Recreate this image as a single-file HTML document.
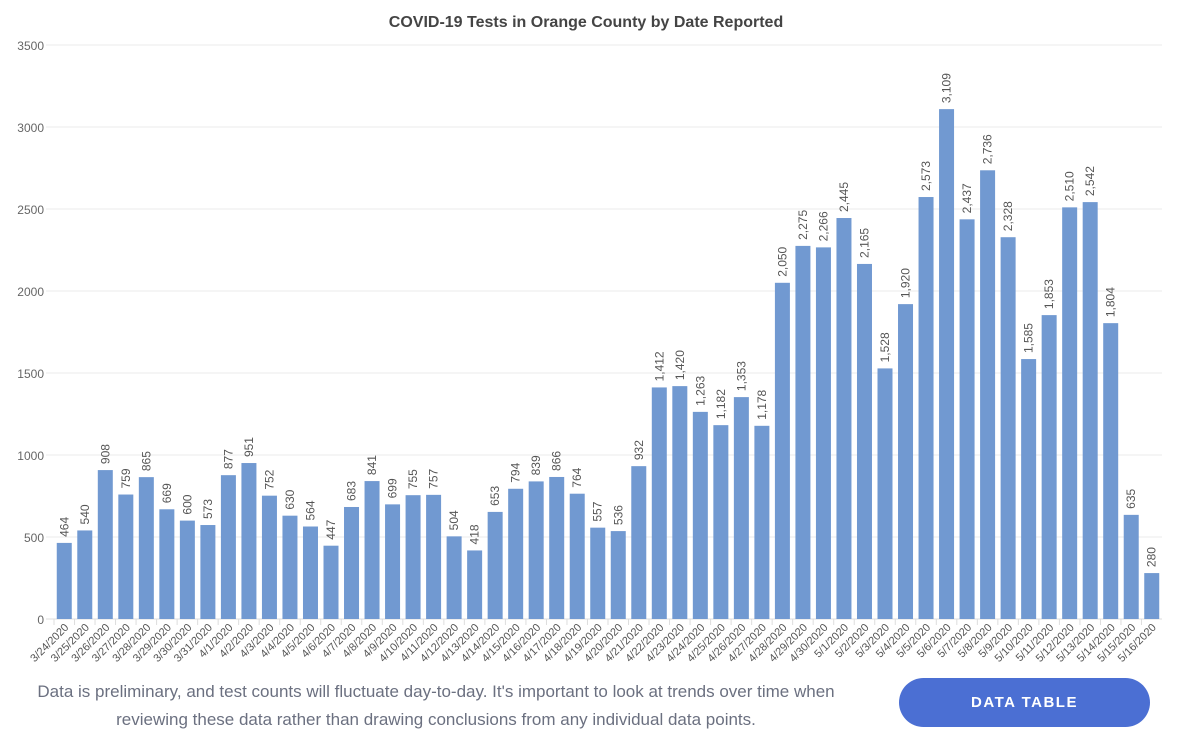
<!DOCTYPE html>
<html><head><meta charset="utf-8"><style>
body{margin:0;background:#fff;width:1200px;height:754px;overflow:hidden;font-family:"Liberation Sans",sans-serif}
#note{position:absolute;left:10px;top:678px;width:852px;text-align:center;color:#6b7080;font-size:17px;line-height:28px}
#btn{position:absolute;left:899px;top:678px;width:251px;height:49px;border-radius:25px;background:#4b6fd3;color:#fff;font-size:15px;font-weight:bold;letter-spacing:1.5px;text-align:center;line-height:49px}
</style></head><body>
<svg id="chart" width="1200" height="754" style="position:absolute;left:0;top:0"></svg>
<div id="note">Data is preliminary, and test counts will fluctuate day-to-day. It's important to look at trends over time when<br>reviewing these data rather than drawing conclusions from any individual data points.</div>
<div id="btn">DATA TABLE</div>
<script>
const dates=["3/24/2020","3/25/2020","3/26/2020","3/27/2020","3/28/2020","3/29/2020","3/30/2020","3/31/2020","4/1/2020","4/2/2020","4/3/2020","4/4/2020","4/5/2020","4/6/2020","4/7/2020","4/8/2020","4/9/2020","4/10/2020","4/11/2020","4/12/2020","4/13/2020","4/14/2020","4/15/2020","4/16/2020","4/17/2020","4/18/2020","4/19/2020","4/20/2020","4/21/2020","4/22/2020","4/23/2020","4/24/2020","4/25/2020","4/26/2020","4/27/2020","4/28/2020","4/29/2020","4/30/2020","5/1/2020","5/2/2020","5/3/2020","5/4/2020","5/5/2020","5/6/2020","5/7/2020","5/8/2020","5/9/2020","5/10/2020","5/11/2020","5/12/2020","5/13/2020","5/14/2020","5/15/2020","5/16/2020"];
const tests=[464,540,908,759,865,669,600,573,877,951,752,630,564,447,683,841,699,755,757,504,418,653,794,839,866,764,557,536,932,1412,1420,1263,1182,1353,1178,2050,2275,2266,2445,2165,1528,1920,2573,3109,2437,2736,2328,1585,1853,2510,2542,1804,635,280];
const yTicks=[0,500,1000,1500,2000,2500,3000,3500];
const NS="http://www.w3.org/2000/svg",svg=document.getElementById('chart');
const L=54,R=1162,B=619,T=45,yMax=3500;
const slot=(R-L)/dates.length;
const y=v=>B-(B-T)*v/yMax, x=i=>L+slot*(i+0.5);
function mk(t,a,p){const e=document.createElementNS(NS,t);for(const k in a)e.setAttribute(k,a[k]);(p||svg).appendChild(e);return e;}
const title=mk('text',{x:586,y:27,'text-anchor':'middle','font-size':16,'font-weight':'bold',fill:'#444'});


title.textContent='COVID-19 Tests in Orange County by Date Reported';
yTicks.forEach(v=>{
 const g=mk('line',{x1:L-8,x2:R,y1:y(v),y2:y(v),stroke:v?'#ebebeb':'#ddd'});
 
 
 const t=mk('text',{x:L-10,y:y(v)+5,'text-anchor':'end','font-size':12,fill:'#666'});
 
 
 t.textContent=v;
});
dates.forEach((d,i)=>{
 const cx=x(i),v=tests[i],bw=15;
 const r=mk('rect',{x:cx-bw/2,y:y(v),width:bw,height:B-y(v),fill:'#7199d1'});
 
 
 const vl=mk('text',{transform:`translate(${cx+4},${y(v)-6}) rotate(-90)`,'font-size':12,fill:'#555'});
 
 
 vl.textContent=v.toLocaleString('en-US');
 const tk=mk('line',{x1:L+slot*i,x2:L+slot*i,y1:B,y2:B+6,stroke:'#ddd'});
 
 
 const xl=mk('text',{transform:`translate(${cx+5},${B+9}) rotate(-45)`,'text-anchor':'end','font-size':11,fill:'#555'});
 
 
 xl.textContent=d;
});
</script>
</body></html>
